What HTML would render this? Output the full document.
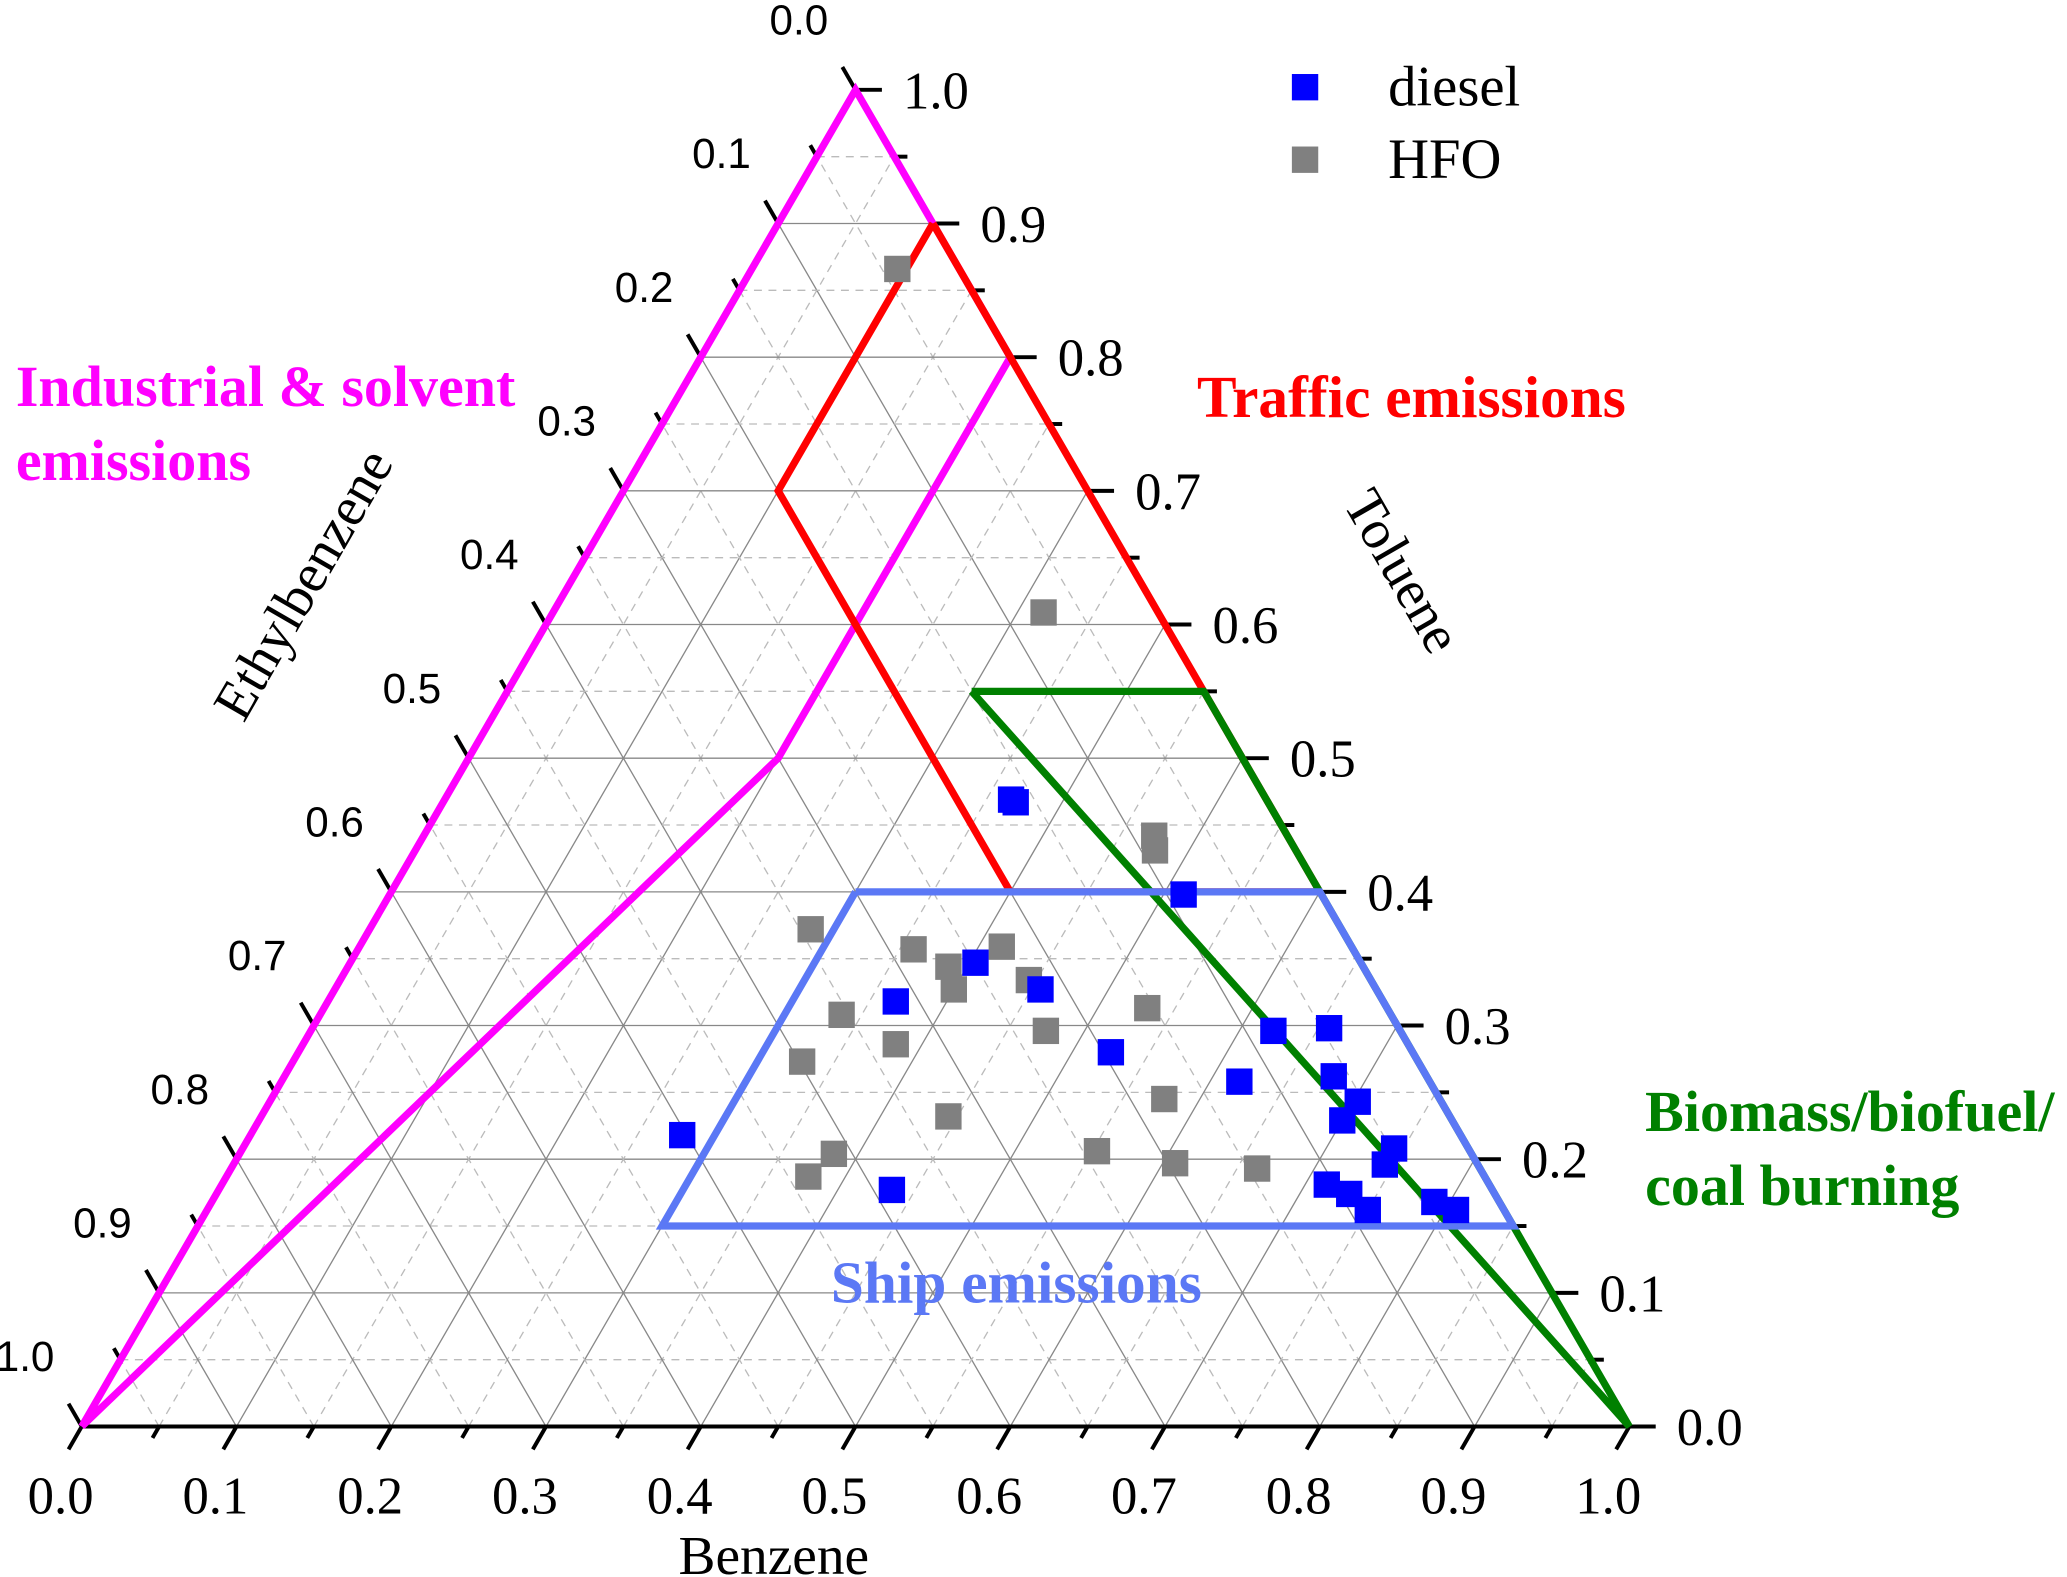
<!DOCTYPE html>
<html><head><meta charset="utf-8"><style>
html,body{margin:0;padding:0;background:#fff}
svg{display:block}
.ser{font-family:"Liberation Serif",serif}
.san{font-family:"Liberation Sans",sans-serif}
</style></head><body>
<svg id="chart" width="2067" height="1577" viewBox="0 0 1568 1196" xmlns="http://www.w3.org/2000/svg">
<g id="grid"></g>
<g id="axes"></g>
<g id="regions"></g>
<g id="points"></g>
<g>
<rect x="980" y="56" width="20" height="20" fill="#0000ff"/>
<text class="ser" x="1053" y="80" font-size="43">diesel</text>
<rect x="980" y="111" width="20" height="20" fill="#808080"/>
<text class="ser" x="1053" y="135" font-size="43">HFO</text>
</g>
<g class="ser" font-weight="bold" font-size="44">
<text x="12" y="308" fill="#ff00ff">Industrial &amp; solvent</text>
<text x="12" y="364" fill="#ff00ff">emissions</text>
<text x="908" y="316" fill="#ff0000" font-size="45">Traffic emissions</text>
<text x="1248" y="858" fill="#008000">Biomass/biofuel/</text>
<text x="1248" y="914" fill="#008000">coal burning</text>
<text x="771" y="988" text-anchor="middle" fill="#5b78f5" font-size="45">Ship emissions</text>
</g>
<text class="ser" x="587" y="1194" font-size="42" text-anchor="middle">Benzene</text>
<text class="ser" font-size="42" text-anchor="middle" transform="translate(242,450) rotate(-60)">Ethylbenzene</text>
<text class="ser" font-size="42" text-anchor="middle" transform="translate(1052,440) rotate(60)">Toluene</text>
</svg>
<script>
// data: [Benzene, Toluene] fractions
const dieselB=[0.366,0.370,0.513,0.404,0.367,0.456,0.525,0.622,0.657,0.619,0.678,0.703,0.700,0.279,0.435,0.744,0.744,0.714,0.732,0.750,0.790,0.807];
const dieselT=[0.469,0.467,0.398,0.347,0.318,0.327,0.280,0.296,0.298,0.258,0.262,0.243,0.229,0.218,0.177,0.208,0.196,0.181,0.174,0.162,0.168,0.162];
const hfoB=[0.094,0.317,0.472,0.478,0.285,0.359,0.388,0.415,0.400,0.445,0.337,0.475,0.532,0.383,0.329,0.577,0.444,0.553,0.608,0.663,0.384,0.376];
const hfoT=[0.866,0.609,0.442,0.431,0.372,0.357,0.344,0.359,0.327,0.334,0.308,0.296,0.313,0.286,0.273,0.245,0.232,0.206,0.197,0.193,0.204,0.187];
const ticks=[0,0.1,0.2,0.3,0.4,0.5,0.6,0.7,0.8,0.9,1.0];
const tickLabels=["0.0","0.1","0.2","0.3","0.4","0.5","0.6","0.7","0.8","0.9","1.0"];
const magentaB=[0,0,0.2,0.2,0];const magentaT=[0,1,0.8,0.5,0];
const redB=[0.1,0.1,0.4,0.6,0.1];const redT=[0.9,0.7,0.4,0.4,0.9];
const greenB=[0.3,0.45,1,0.3];const greenT=[0.55,0.55,0,0.55];
const blueB=[0.3,0.6,0.85,0.3,0.3];const blueT=[0.4,0.4,0.15,0.15,0.4];

const X0=62,Y0=1082,W=1174,H=1014,NS="http://www.w3.org/2000/svg";
function px(b,t){return X0+(b+t/2)*W;}
function py(b,t){return Y0-t*H;}
function mk(tag,attrs,parent){const e=document.createElementNS(NS,tag);for(const k in attrs)e.setAttribute(k,attrs[k]);parent.appendChild(e);return e;}
const grid=document.getElementById('grid'),reg=document.getElementById('regions'),ax=document.getElementById('axes'),pts=document.getElementById('points');
for(let i=1;i<20;i++){
  const v=i/20,major=i%2===0;
  const st=major?{stroke:'#888','stroke-width':1}:{stroke:'#bbb','stroke-width':1,'stroke-dasharray':'6,5'};
  const segs=[[[0,v],[1-v,v]],[[v,0],[v,1-v]],[[1-v,0],[0,1-v]]];
  segs.forEach(s=>{
    const l=mk('line',Object.assign({x1:px(s[0][0],s[0][1]),y1:py(s[0][0],s[0][1]),x2:px(s[1][0],s[1][1]),y2:py(s[1][0],s[1][1])},st),grid);
    
    
  });
}
[[0,0,1,0],[1,0,0,1],[0,1,0,0]].forEach(e=>{
  const l=mk('line',{x1:px(e[0],e[1]),y1:py(e[0],e[1]),x2:px(e[2],e[3]),y2:py(e[2],e[3]),stroke:'#000','stroke-width':3},ax);
  
  
});
for(let i=0;i<=20;i++){
  const v=i/20,len=i%2===0?20:10;
  let x=px(v,0),y=py(v,0);
  let t=mk('line',{x1:x,y1:y,x2:x-len*0.5,y2:y+len*0.866,stroke:'#000','stroke-width':3},ax);
  
  x=px(1-v,v);y=py(1-v,v);
  t=mk('line',{x1:x,y1:y,x2:x+len,y2:y,stroke:'#000','stroke-width':3},ax);
  
  x=px(0,1-v);y=py(0,1-v);
  t=mk('line',{x1:x,y1:y,x2:x-len*0.5,y2:y-len*0.866,stroke:'#000','stroke-width':3},ax);
  
}
ticks.forEach((v,i)=>{
  let tx=mk('text',{x:px(v,0)-16,y:1148,'font-size':40,'text-anchor':'middle',class:'ser'},ax);
  tx.textContent=tickLabels[i];
  
  tx=mk('text',{x:px(1-v,v)+36,y:py(1-v,v)+14,'font-size':40,class:'ser'},ax);
  tx.textContent=tickLabels[i];
  
  tx=mk('text',{x:px(0,1-v)-43,y:py(0,1-v)-42,'font-size':32,'text-anchor':'middle',class:'san'},ax);
  tx.textContent=tickLabels[i];
  
});
function poly(B,T,color,name){
  const p=mk('polyline',{points:B.map((b,i)=>px(b,T[i])+','+py(b,T[i])).join(' '),fill:'none',stroke:color,'stroke-width':5.5,'stroke-linejoin':'miter'},reg);
  
  
}
poly(magentaB,magentaT,'#ff00ff','industrial-region');
poly(redB,redT,'#ff0000','traffic-region');
poly(greenB,greenT,'#008000','biomass-region');
poly(blueB,blueT,'#5b78f5','ship-region');
function series(B,T,color,name){
  B.forEach((b,i)=>{
    const r=mk('rect',{x:px(b,T[i])-10,y:py(b,T[i])-10,width:20,height:20,fill:color},pts);
    
    
  });
}
series(hfoB,hfoT,'#808080','hfo-point');
series(dieselB,dieselT,'#0000ff','diesel-point');
</script>
</body></html>
